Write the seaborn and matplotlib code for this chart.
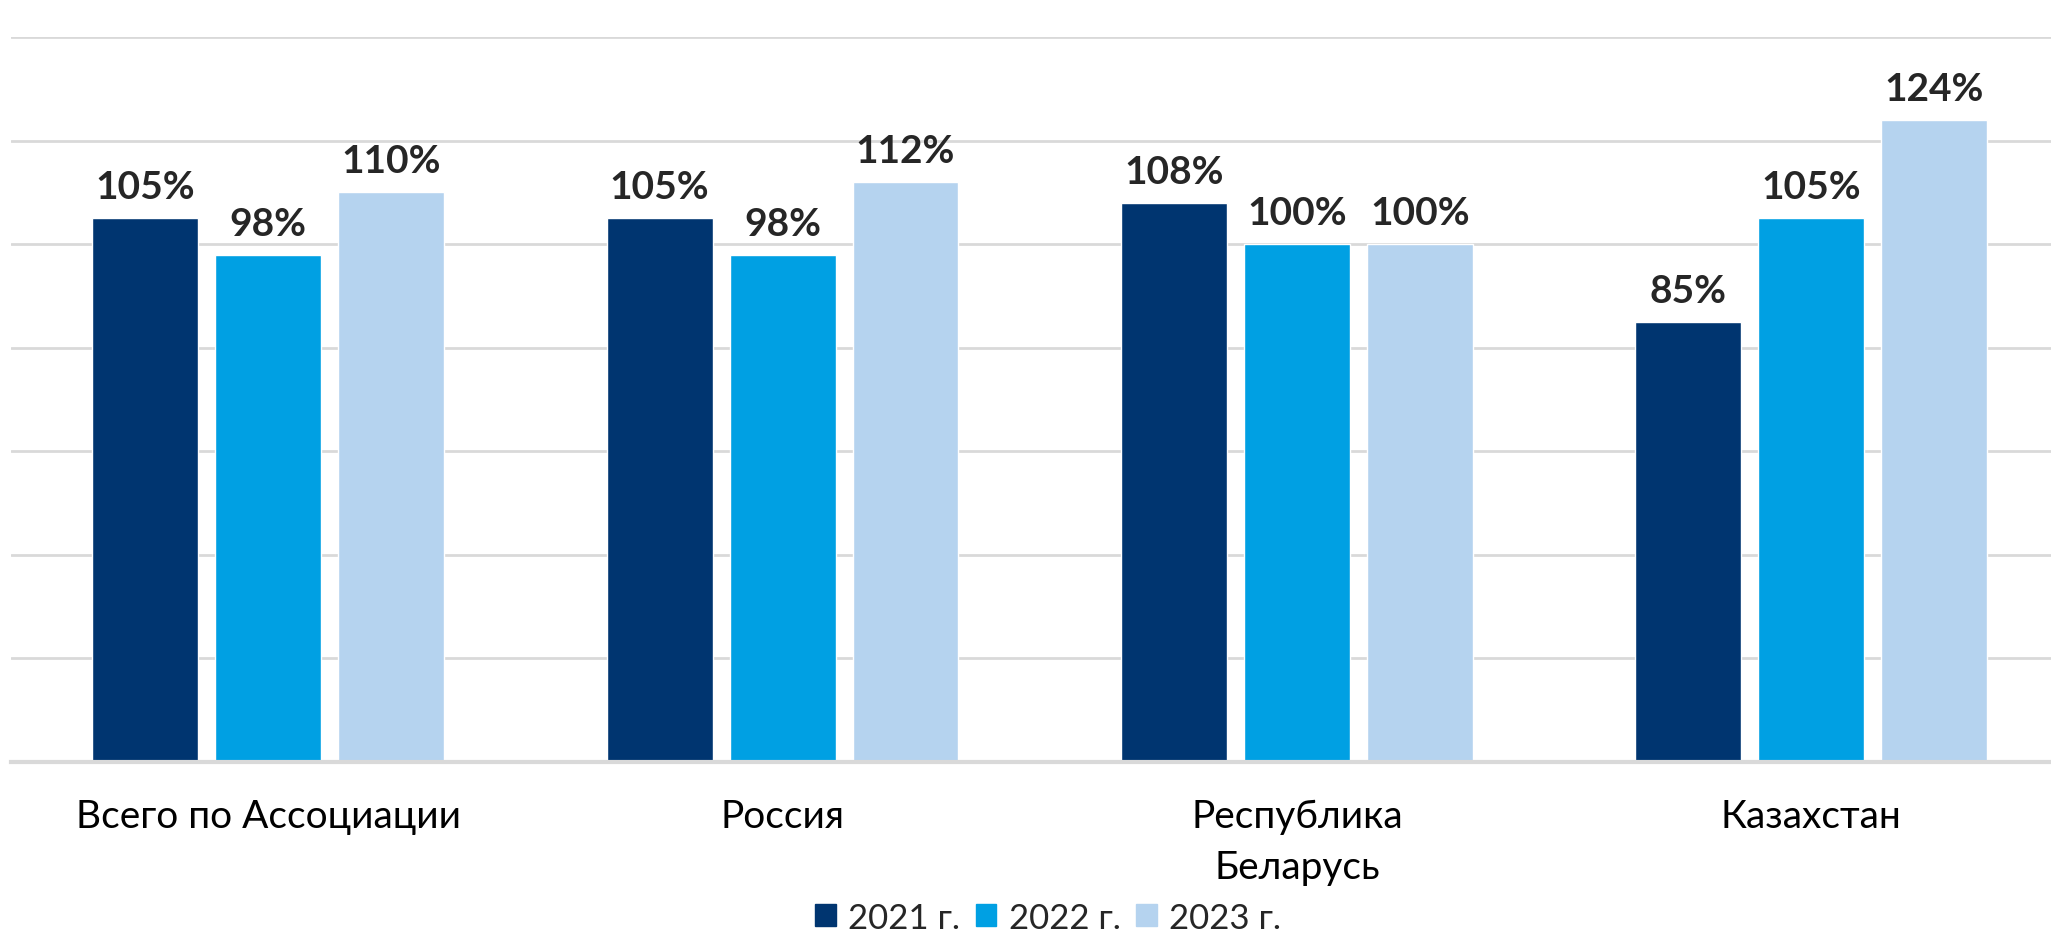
import pandas as pd
import matplotlib.pyplot as plt
import seaborn as sns

regions = ['Всего по Ассоциации', 'Россия', 'Республика\nБеларусь', 'Казахстан']
years = ['2021 г.', '2022 г.', '2023 г.']
v2021 = [105, 105, 108, 85]
v2022 = [98, 98, 100, 105]
v2023 = [110, 112, 100, 124]
colors = ['#003570', '#00A0E3', '#B5D3EF']

rows = []
for year, vals in zip(years, [v2021, v2022, v2023]):
    for reg, v in zip(regions, vals):
        rows.append({'region': reg, 'year': year, 'value': v})
data = pd.DataFrame(rows)

sns.set_style('white')
plt.rcParams['font.family'] = ['Lato', 'DejaVu Sans']

fig = plt.figure(figsize=(20.51, 9.45), dpi=100)
ax = fig.add_axes([11 / 2051, 182 / 945, 2040 / 2051, (763 - 38) / 945])

sns.barplot(data=data, x='region', y='value', hue='year', palette=colors,
            width=0.717, gap=0.138, saturation=1, ax=ax)

for cont in ax.containers:
    ax.bar_label(cont, fmt='%d%%', padding=10, fontsize=28, fontweight='bold',
                 color='#262626')

ax.set_ylim(0, 140)
ax.set_xlim(-0.5, 3.466)
ax.set_yticks(range(0, 141, 20))
ax.yaxis.grid(True, color='#D9D9D9', linewidth=2)
ax.set_axisbelow(True)
ax.set_yticklabels([])
ax.tick_params(axis='y', length=0)
ax.tick_params(axis='x', length=0, pad=26, labelsize=28, labelcolor='black')
for lbl in ax.get_xticklabels():
    lbl.set_linespacing(1.5)
    lbl.set_verticalalignment('top')
ax.set_xlabel('')
ax.set_ylabel('')
for s in ['top', 'right', 'left']:
    ax.spines[s].set_visible(False)
ax.spines['bottom'].set_color('#D9D9D9')
ax.spines['bottom'].set_linewidth(3)

ax.get_legend().remove()
handles = [plt.Rectangle((0, 0), 1, 1, color=c) for c in colors]
fig.legend(handles, years, loc='lower center', bbox_to_anchor=(0.511, -0.022),
           ncol=3, frameon=False, fontsize=25, handlelength=0.6,
           handleheight=0.6, handletextpad=0.35, columnspacing=0.45)

fig.savefig('out.png', dpi=100)
